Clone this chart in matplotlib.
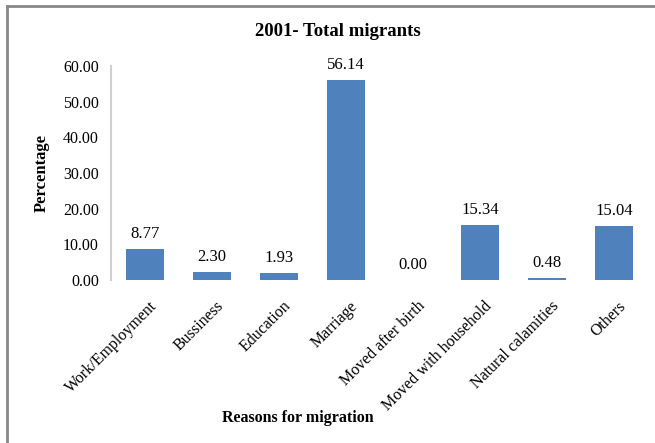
import matplotlib.pyplot as plt
from matplotlib.lines import Line2D
from matplotlib.transforms import ScaledTranslation

# 2001 census: reasons for migration (total migrants, %)
reasons = ["Work/Employment", "Bussiness", "Education", "Marriage",
           "Moved after birth", "Moved with household", "Natural calamities", "Others"]
percent = [8.77, 2.30, 1.93, 56.14, 0.00, 15.34, 0.48, 15.04]
yticks = [0, 10, 20, 30, 40, 50, 60]

plt.rcParams['font.family'] = ['Liberation Serif', 'DejaVu Serif']

fig = plt.figure(figsize=(6.55, 4.43), dpi=100)
ax = fig.add_axes([0.1702, 0.368, 0.8185, 0.483])

x = range(len(reasons))
ax.bar(x, percent, width=0.57, color='#4F81BD')
for i, v in zip(x, percent):
    ax.annotate("%.2f" % v, (i, v), xytext=(0, 5), textcoords='offset points',
                ha='center', va='bottom', fontsize=12)

ax.set_xlim(-0.5, len(reasons) - 0.5)
ax.set_ylim(0, 60)
ax.set_yticks(yticks)
ax.set_yticklabels(["%.2f" % t for t in yticks], fontsize=11.5)
ax.set_xticks(list(x))
ax.set_xticklabels(reasons, rotation=45, ha='right', rotation_mode='anchor', fontsize=11.5)
ax.tick_params(axis='both', length=0)
ax.tick_params(axis='y', pad=9)
ax.tick_params(axis='x', pad=13)
# nudge the slanted labels a little to the right of each tick
shift = ScaledTranslation(4 / 100, 0, fig.dpi_scale_trans)
for lbl in ax.get_xticklabels():
    lbl.set_transform(lbl.get_transform() + shift)

for s in ['top', 'right', 'bottom']:
    ax.spines[s].set_visible(False)
ax.spines['left'].set_color('#d0d0d0')
ax.spines['left'].set_linewidth(1.5)

fig.text(338 / 655, 1 - 32 / 443, "2001- Total migrants", ha='center', va='center',
         fontsize=13.5, fontweight='bold')
fig.text(42 / 655, 1 - 173 / 443, "Percentage", rotation=90, ha='center', va='center',
         fontsize=12, fontweight='bold')
fig.text(298 / 655, 1 - 418 / 443, "Reasons for migration", ha='center', va='center',
         fontsize=11.5, fontweight='bold')

# outer frame (top and left edges)
fig.add_artist(Line2D([7 / 655, 7 / 655], [0, 1 - 6 / 443], transform=fig.transFigure,
                      color='#888888', linewidth=2))
fig.add_artist(Line2D([7 / 655, 1], [1 - 6 / 443, 1 - 6 / 443], transform=fig.transFigure,
                      color='#888888', linewidth=2))

fig.savefig("out.png", dpi=100)
